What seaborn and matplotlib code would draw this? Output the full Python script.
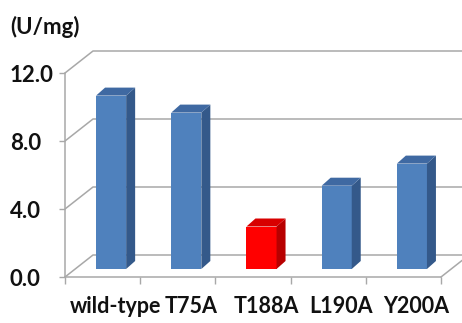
import matplotlib
matplotlib.use("Agg")
import matplotlib.pyplot as plt
from matplotlib.patches import Polygon
from matplotlib.transforms import offset_copy
import seaborn as sns

# Specific activity of the enzyme variants
categories = ["wild-type", "T75A", "T188A", "L190A", "Y200A"]
activity = [10.2, 9.2, 2.5, 4.9, 6.2]
y_ticks = [0, 4, 8, 12]
y_tick_labels = ["0.0", "4.0", "8.0", "12.0"]
unit_label = "(U/mg)"

front_colors = ["#4F81BD", "#4F81BD", "#FF0000", "#4F81BD", "#4F81BD"]
side_colors = ["#34598A", "#34598A", "#B80000", "#34598A", "#34598A"]
top_colors = ["#3F69A2", "#3F69A2", "#D80000", "#3F69A2", "#3F69A2"]

GRID = "#A8A8A8"
TEXT = "#111111"
FONT_SIZE = 16
CAT_FONT_SIZE = 15.5

sns.set_theme(style="white")
plt.rcParams["font.family"] = ["Lato", "DejaVu Sans"]
plt.rcParams["font.weight"] = "bold"

DPI = 100
W, H = 462, 323
fig = plt.figure(figsize=(W / DPI, H / DPI), dpi=DPI)
ax = fig.add_axes([65 / W, 46 / H, 376 / W, 204 / H])

sns.barplot(x=categories, y=activity, hue=categories, palette=front_colors,
            width=0.4, saturation=1, linewidth=0, legend=False, ax=ax)

n = len(categories)
ax.set_xlim(-0.5, n - 0.5)
ax.set_ylim(0, 12)
ax.set_xlabel("")
ax.set_ylabel("")

# pseudo-3D offsets in pixels (x right, y up)
WALL = (28, 22)        # back wall relative to the front plane
BAR_PLANE = (8.5, 8)   # front faces of the columns
BAR_DEPTH = (9, 8)     # thickness of each column


def shifted(x, y, dx, dy):
    px, py = ax.transData.transform((x, y))
    return tuple(ax.transData.inverted().transform((px + dx, py + dy)))


# back wall gridlines and floor
x_left, x_right = -0.5, n - 0.5
far_right = shifted(x_right, 0, W, 0)[0]
for t in y_ticks:
    bx, by = shifted(x_left, t, *WALL)
    ax.plot([x_left, bx, far_right], [t, by, by], color=GRID, lw=1.1,
            clip_on=False, zorder=1, solid_capstyle="butt")
rx, ry = shifted(x_right, 0, *WALL)
ax.plot([x_right, rx], [0, ry], color=GRID, lw=1.1, clip_on=False, zorder=1)

# columns: front faces from seaborn, then side and top faces
plane = offset_copy(ax.transData, fig=fig, x=BAR_PLANE[0], y=BAR_PLANE[1], units="dots")
for i, bar in enumerate(ax.patches):
    bar.set_transform(plane)
    bar.set_zorder(3)
    x0, w, h = bar.get_x(), bar.get_width(), bar.get_height()
    p = lambda x, y, dx=0, dy=0: shifted(x, y, BAR_PLANE[0] + dx, BAR_PLANE[1] + dy)
    side = [p(x0 + w, 0), p(x0 + w, h), p(x0 + w, h, *BAR_DEPTH), p(x0 + w, 0, *BAR_DEPTH)]
    top = [p(x0, h), p(x0 + w, h), p(x0 + w, h, *BAR_DEPTH), p(x0, h, *BAR_DEPTH)]
    ax.add_patch(Polygon(side, closed=True, facecolor=side_colors[i], edgecolor="none",
                         zorder=3, clip_on=False))
    ax.add_patch(Polygon(top, closed=True, facecolor=top_colors[i], edgecolor="none",
                         zorder=3, clip_on=False))

# axes lines and ticks
for s in ["top", "right"]:
    ax.spines[s].set_visible(False)
for s in ["left", "bottom"]:
    ax.spines[s].set_color(GRID)
    ax.spines[s].set_linewidth(1.1)
    ax.spines[s].set_zorder(2)

ax.set_xticks([k - 0.5 for k in range(n + 1)], [""] * (n + 1))
ax.set_yticks(y_ticks, y_tick_labels)
tick_len = 6 * 72 / DPI
ax.tick_params(axis="x", bottom=True, length=7 * 72 / DPI, width=1.0, color=GRID)
ax.tick_params(axis="y", left=True, length=tick_len, width=1.0, color=GRID,
               labelsize=FONT_SIZE, pad=55 * 72 / DPI - tick_len)
for lab in ax.get_yticklabels():
    lab.set_horizontalalignment("left")
    lab.set_fontweight("bold")
    lab.set_color(TEXT)

label_shift = offset_copy(ax.transData, fig=fig, x=13, y=-19, units="dots")
for k, cat in enumerate(categories):
    ax.text(k, 0, cat, transform=label_shift, ha="center", va="top",
            fontsize=CAT_FONT_SIZE, fontweight="bold", color=TEXT)

fig.text(10 / W, 1 - 16 / H, unit_label, ha="left", va="top",
         fontsize=FONT_SIZE, fontweight="bold", color=TEXT)

fig.savefig("out.png", dpi=DPI, facecolor="white")
